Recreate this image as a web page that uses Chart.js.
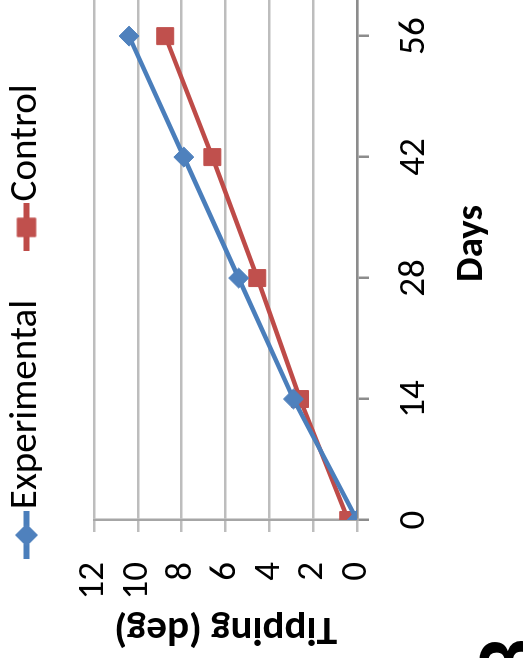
<!DOCTYPE html>
<html>
<head>
<meta charset="utf-8">
<script src="https://cdn.jsdelivr.net/npm/chart.js@4.4.1/dist/chart.umd.min.js"></script>
<style>
  html, body { margin: 0; padding: 0; background: #fff; overflow: hidden; width: 523px; height: 658px; }
  /* the figure is laid out landscape and turned a quarter turn counter-clockwise */
  #turn { position: absolute; left: 0; top: 0; width: 658px; height: 523px;
          transform-origin: 0 0; transform: translateY(658px) rotate(-90deg); }
  #c { position: absolute; left: -14px; top: -59px; }
  #panel { position: absolute; left: -27px; top: 462px; font: bold 92px Carlito, Lato, sans-serif; line-height: 1; color: #000; }
</style>
</head>
<body>
<div id="turn">
  <canvas id="c" width="718" height="582"></canvas>
  <div id="panel">3</div>
</div>
<script>
// Measurements: tipping angle (degrees) against days
const days = [0, 14, 28, 42, 56];
const experimental = [0, 2.9, 5.4, 7.9, 10.4];
const control = [0.4, 2.6, 4.55, 6.6, 8.75];
const seriesNames = ['Experimental', 'Control'];
const tippingTicks = [0, 2, 4, 6, 8, 10, 12];

const BLUE_LINE = '#4A7EBB', BLUE_MARK = '#4F81BD';
const RED_LINE = '#BE4B48', RED_MARK = '#C0504D';
const FONT = 'Carlito, Calibri, Lato, sans-serif';

// legend key: a short line with the series marker in its middle
function legendKey(lineColor, markColor, style, radius) {
  const k = document.createElement('canvas');
  k.width = 48; k.height = 28;
  const g = k.getContext('2d');
  g.strokeStyle = lineColor; g.lineWidth = 6;
  g.beginPath(); g.moveTo(0, 14); g.lineTo(48, 14); g.stroke();
  g.fillStyle = markColor; g.strokeStyle = markColor; g.lineWidth = 1;
  Chart.helpers.drawPoint(g, { pointStyle: style, radius: radius, rotation: 0, borderWidth: 1 }, 24, 14);
  return k;
}
const keys = [legendKey(BLUE_LINE, BLUE_MARK, 'rectRot', 11), legendKey(RED_LINE, RED_MARK, 'rect', 13)];

const toPoints = vals => days.map((d, i) => ({ x: d, y: vals[i] }));

new Chart(document.getElementById('c'), {
  type: 'line',
  data: {
    datasets: [
      { label: seriesNames[0], data: toPoints(experimental), borderColor: BLUE_LINE, borderWidth: 4.5,
        pointStyle: 'rectRot', pointRadius: 10, pointBackgroundColor: BLUE_MARK, pointBorderColor: BLUE_MARK,
        pointBorderWidth: 1, tension: 0 },
      { label: seriesNames[1], data: toPoints(control), borderColor: RED_LINE, borderWidth: 4.5,
        pointStyle: 'rect', pointRadius: 12, pointBackgroundColor: RED_MARK, pointBorderColor: RED_MARK,
        pointBorderWidth: 1, tension: 0 }
    ]
  },
  options: {
    responsive: false,
    animation: false,
    devicePixelRatio: 1,
    layout: { padding: { left: 0, right: 0, top: 0, bottom: 26 } },
    plugins: {
      tooltip: { enabled: false },
      legend: {
        position: 'top',
        align: 'center',
        labels: {
          usePointStyle: true,
          pointStyleWidth: 13,
          padding: 66,
          color: '#000',
          font: { family: FONT, size: 39 },
          generateLabels: chart => chart.data.datasets.map((ds, i) => ({
            text: ds.label, pointStyle: keys[i], datasetIndex: i, hidden: false,
            lineWidth: 0, fillStyle: 'rgba(0,0,0,0)', strokeStyle: 'rgba(0,0,0,0)', fontColor: '#000'
          }))
        }
      },
      // gap between the legend row and the plot
      title: { display: true, text: '', weight: 500, padding: 0, font: { size: 10, lineHeight: '38px' } }
    },
    scales: {
      x: {
        type: 'linear', min: 0, max: 64,
        afterBuildTicks: s => { s.ticks = days.map(v => ({ value: v })); },
        afterFit: s => { s.height = 140; s.paddingLeft = 0; s.paddingRight = 0; },
        grid: { drawOnChartArea: false, drawTicks: true, tickLength: 12, color: '#8C8C8C', lineWidth: 2.5 },
        border: { display: true, color: '#8C8C8C', width: 2.5 },
        ticks: { color: '#000', padding: 24, maxRotation: 0, autoSkip: false, font: { family: FONT, size: 37 } },
        title: { display: true, text: 'Days', color: '#000', padding: { top: 0, bottom: 1 },
                 font: { family: FONT, size: 39, weight: 'bold' } }
      },
      y: {
        min: 0, max: 12,
        afterBuildTicks: s => { s.ticks = tippingTicks.map(v => ({ value: v })); },
        afterFit: s => { s.width = 152; s.paddingTop = 0; s.paddingBottom = 0; },
        grid: { color: '#BDBDBD', lineWidth: 2.5, drawTicks: true, tickLength: 12 },
        border: { display: true, color: '#A6A6A6', width: 2.5 },
        ticks: { color: '#000', padding: 30, autoSkip: false, font: { family: FONT, size: 37 } },
        title: { display: true, text: 'Tipping (deg)', color: '#000', padding: { top: 19, bottom: 0 },
                 font: { family: FONT, size: 41, weight: 'bold' } }
      }
    }
  }
});
</script>
</body>
</html>
